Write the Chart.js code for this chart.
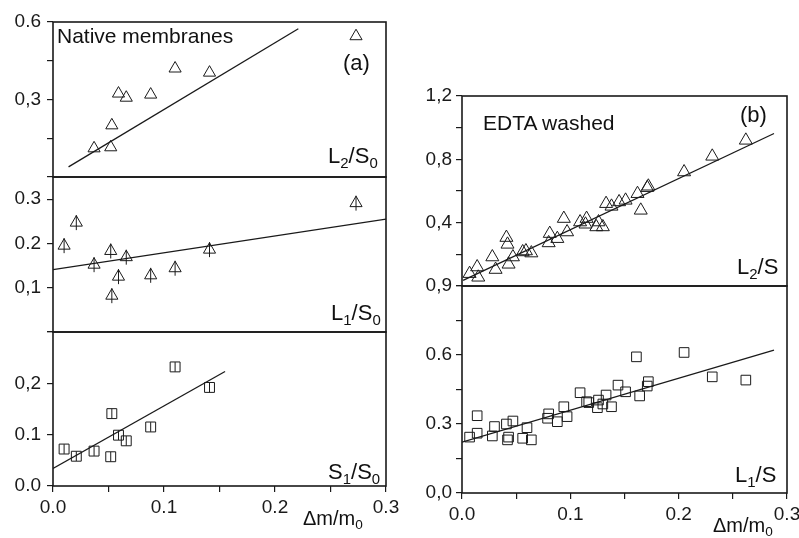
<!DOCTYPE html>
<html lang="en">
  <head>
    <meta charset="utf-8" />
    <title>Native membranes / EDTA washed</title>
    <style>
      body { margin: 0; background: #fff; }
      #page { position: relative; width: 799px; height: 538px; overflow: hidden; }
      #page canvas { position: absolute; left: 0; top: 0; }
      .txt { position: absolute; font-family: 'Liberation Sans', Arial, sans-serif; line-height: 1; color: #111; white-space: nowrap; }
      .txt sub { font-size: 0.68em; vertical-align: -0.32em; line-height: 0; }
    </style>
    <script src="https://cdn.jsdelivr.net/npm/chart.js"></script>
  </head>
  <body>
    <div id="page">
      <canvas id="a2" width="799" height="538"></canvas>
      <canvas id="a1" width="799" height="538"></canvas>
      <canvas id="as" width="799" height="538"></canvas>
      <canvas id="b2" width="799" height="538"></canvas>
      <canvas id="b1" width="799" height="538"></canvas>

      <div class="txt" style="left:57px; top:25px; font-size:21px;">Native membranes</div>
      <div class="txt" style="left:343px; top:52px; font-size:22px;">(a)</div>
      <div class="txt" style="left:328px; top:145px; font-size:22px;">L<sub>2</sub>/S<sub>0</sub></div>
      <div class="txt" style="left:331px; top:302px; font-size:22px;">L<sub>1</sub>/S<sub>0</sub></div>
      <div class="txt" style="left:328px; top:461px; font-size:22px;">S<sub>1</sub>/S<sub>0</sub></div>
      <div class="txt" style="left:303px; top:508px; font-size:20px;">&Delta;m/m<sub>0</sub></div>

      <div class="txt" style="left:483px; top:112px; font-size:21px;">EDTA washed</div>
      <div class="txt" style="left:740px; top:104px; font-size:22px;">(b)</div>
      <div class="txt" style="left:737px; top:256px; font-size:22px;">L<sub>2</sub>/S</div>
      <div class="txt" style="left:735px; top:464px; font-size:22px;">L<sub>1</sub>/S</div>
      <div class="txt" style="left:713px; top:515px; font-size:20px;">&Delta;m/m<sub>0</sub></div>
    </div>

    <script>
      // (a) native membranes, shared x values
      const xA = [0.010, 0.021, 0.037, 0.052, 0.053, 0.059, 0.066, 0.088, 0.110, 0.141, 0.273];
      const l2s0 = [null, null, 0.111, 0.115, 0.200, 0.323, 0.307, 0.319, 0.420, 0.404, 0.545];
      const l1s0 = [0.195, 0.247, 0.152, 0.183, 0.082, 0.125, 0.169, 0.128, 0.144, 0.186, 0.291];
      const s1s0 = [0.072, 0.058, 0.068, 0.057, 0.141, 0.099, 0.088, 0.115, 0.232, 0.192, null];

      // fitted lines (end points)
      const fitL2S0x = [0.014, 0.221], fitL2S0y = [0.039, 0.574];
      const fitL1S0x = [0.0, 0.3], fitL1S0y = [0.141, 0.255];
      const fitS1S0x = [0.0, 0.155], fitS1S0y = [0.034, 0.223];

      // (b) EDTA washed
      const xL2S = [0.007, 0.014, 0.015, 0.028, 0.031, 0.041, 0.042, 0.043, 0.047, 0.056, 0.059, 0.064,
                    0.080, 0.081, 0.088, 0.094, 0.097, 0.109, 0.114, 0.115, 0.124, 0.126, 0.130, 0.133,
                    0.138, 0.145, 0.151, 0.162, 0.165, 0.171, 0.172, 0.205, 0.231, 0.262];
      const yL2S = [0.078, 0.120, 0.055, 0.183, 0.104, 0.306, 0.263, 0.137, 0.183, 0.215, 0.221, 0.208,
                    0.272, 0.331, 0.299, 0.426, 0.341, 0.404, 0.390, 0.426, 0.373, 0.404, 0.373, 0.520,
                    0.503, 0.531, 0.541, 0.583, 0.478, 0.621, 0.630, 0.720, 0.819, 0.920];
      const xL1S = [0.007, 0.014, 0.014, 0.028, 0.030, 0.041, 0.042, 0.043, 0.047, 0.056, 0.060, 0.064,
                    0.079, 0.080, 0.088, 0.094, 0.097, 0.109, 0.115, 0.117, 0.125, 0.126, 0.130, 0.133,
                    0.138, 0.144, 0.151, 0.161, 0.164, 0.171, 0.172, 0.205, 0.231, 0.262];
      const yL1S = [0.243, 0.336, 0.260, 0.248, 0.289, 0.300, 0.231, 0.243, 0.313, 0.238, 0.284, 0.231,
                    0.325, 0.344, 0.310, 0.375, 0.332, 0.436, 0.397, 0.393, 0.371, 0.404, 0.387, 0.426,
                    0.375, 0.469, 0.440, 0.592, 0.422, 0.465, 0.484, 0.611, 0.505, 0.491];
      const fitL2Sx = [0.001, 0.288], fitL2Sy = [0.036, 0.963];
      const fitL1Sx = [0.0, 0.288], fitL1Sy = [0.221, 0.621];

      // tick labels (the figure mixes dots and commas)
      const xTickVals = [0.0, 0.1, 0.2, 0.3];
      const xTickText = ['0.0', '0.1', '0.2', '0.3'];
      const yTickValsA2 = [0.3, 0.6], yTickTextA2 = ['0,3', '0.6'];
      const yTickValsA1 = [0.1, 0.2, 0.3], yTickTextA1 = ['0,1', '0.2', '0.3'];
      const yTickValsAS = [0.0, 0.1, 0.2], yTickTextAS = ['0.0', '0.1', '0,2'];
      const yTickValsB2 = [0.4, 0.8, 1.2], yTickTextB2 = ['0,4', '0,8', '1,2'];
      const yTickValsB1 = [0.0, 0.3, 0.6, 0.9], yTickTextB1 = ['0,0', '0.3', '0.6', '0,9'];

      const FONT = "'Liberation Sans', Arial, sans-serif";
      const INK = '#1a1a1a';

      function pts(xs, ys) {
        const out = [];
        xs.forEach((x, i) => { if (ys[i] !== null) out.push({ x: x, y: ys[i] }); });
        return out;
      }

      function labeler(vals, texts) {
        return function (v) {
          const i = vals.findIndex(t => Math.abs(t - v) < 1e-6);
          return i >= 0 ? texts[i] : '';
        };
      }

      const frame = {
        id: 'frame',
        afterDatasetsDraw(chart) {
          const a = chart.chartArea, ctx = chart.ctx;
          ctx.save();
          ctx.strokeStyle = INK;
          ctx.lineWidth = 1.6;
          ctx.strokeRect(a.left, a.top, a.right - a.left, a.bottom - a.top);
          ctx.restore();
        }
      };

      function markers(data, style, radius, extra) {
        return Object.assign({
          type: 'scatter', data: data, pointStyle: style, pointRadius: radius,
          pointBorderColor: INK, pointBackgroundColor: 'rgba(0,0,0,0)', pointBorderWidth: 1,
          showLine: false
        }, extra || {});
      }

      function fitLine(xs, ys) {
        return { type: 'line', data: pts(xs, ys), borderColor: INK, borderWidth: 1.3,
                 pointRadius: 0, fill: false, tension: 0 };
      }

      // box = chart area in page pixels
      function panel(id, box, yMin, yMax, yStep, yVals, yTexts, yW, yPad, showX, datasets) {
        const xH = showX ? 40 : 0;
        new Chart(document.getElementById(id), {
          type: 'scatter',
          data: { datasets: datasets },
          plugins: [frame],
          options: {
            responsive: false,
            animation: false,
            devicePixelRatio: 1,
            layout: {
              autoPadding: false,
              padding: {
                left: box.left - yW,
                top: box.top,
                right: 799 - box.right,
                bottom: 538 - box.bottom - xH
              }
            },
            plugins: { legend: { display: false }, tooltip: { enabled: false } },
            scales: {
              x: {
                type: 'linear', min: 0, max: 0.3, display: showX,
                border: { display: false },
                grid: { drawOnChartArea: false, drawTicks: true, tickLength: 6, color: INK, lineWidth: 1.2 },
                ticks: { stepSize: 0.05, maxRotation: 0, autoSkip: false, padding: 4, color: INK,
                         font: { family: FONT, size: 19 }, callback: labeler(xTickVals, xTickText) },
                afterFit(s) { s.height = xH; s.paddingLeft = 0; s.paddingRight = 0; }
              },
              y: {
                type: 'linear', min: yMin, max: yMax,
                border: { display: false },
                grid: { drawOnChartArea: false, drawTicks: true, tickLength: 6, color: INK, lineWidth: 1.2 },
                ticks: { stepSize: yStep, includeBounds: false, autoSkip: false, padding: yPad, color: INK,
                         font: { family: FONT, size: 19 }, callback: labeler(yVals, yTexts) },
                afterFit(s) { s.width = yW; s.paddingTop = 0; s.paddingBottom = 0; }
              }
            }
          }
        });
      }

      const tick = { pointRotation: 90 };

      panel('a2', { left: 53, top: 22, right: 386, bottom: 177 }, 0, 0.6, 0.15,
            yTickValsA2, yTickTextA2, 53, 6, false, [
              markers(pts(xA, l2s0), 'triangle', 7),
              fitLine(fitL2S0x, fitL2S0y)
            ]);

      panel('a1', { left: 53, top: 177, right: 386, bottom: 332 }, 0, 0.35, 0.1,
            yTickValsA1, yTickTextA1, 53, 6, false, [
              markers(pts(xA, l1s0), 'triangle', 7),
              markers(pts(xA, l1s0), 'line', 7.5, tick),
              fitLine(fitL1S0x, fitL1S0y)
            ]);

      panel('as', { left: 53, top: 332, right: 386, bottom: 486 }, 0, 0.3, 0.1,
            yTickValsAS, yTickTextAS, 53, 6, true, [
              markers(pts(xA, s1s0), 'rect', 7),
              markers(pts(xA, s1s0), 'line', 4.8, tick),
              fitLine(fitS1S0x, fitS1S0y)
            ]);

      panel('b2', { left: 462, top: 96, right: 787, bottom: 286 }, 0, 1.2, 0.2,
            yTickValsB2, yTickTextB2, 62, 4, false, [
              markers(pts(xL2S, yL2S), 'triangle', 7.5),
              fitLine(fitL2Sx, fitL2Sy)
            ]);

      panel('b1', { left: 462, top: 286, right: 787, bottom: 493 }, 0, 0.9, 0.15,
            yTickValsB1, yTickTextB1, 62, 4, true, [
              markers(pts(xL1S, yL1S), 'rect', 6.8),
              fitLine(fitL1Sx, fitL1Sy)
            ]);
    </script>
  </body>
</html>
